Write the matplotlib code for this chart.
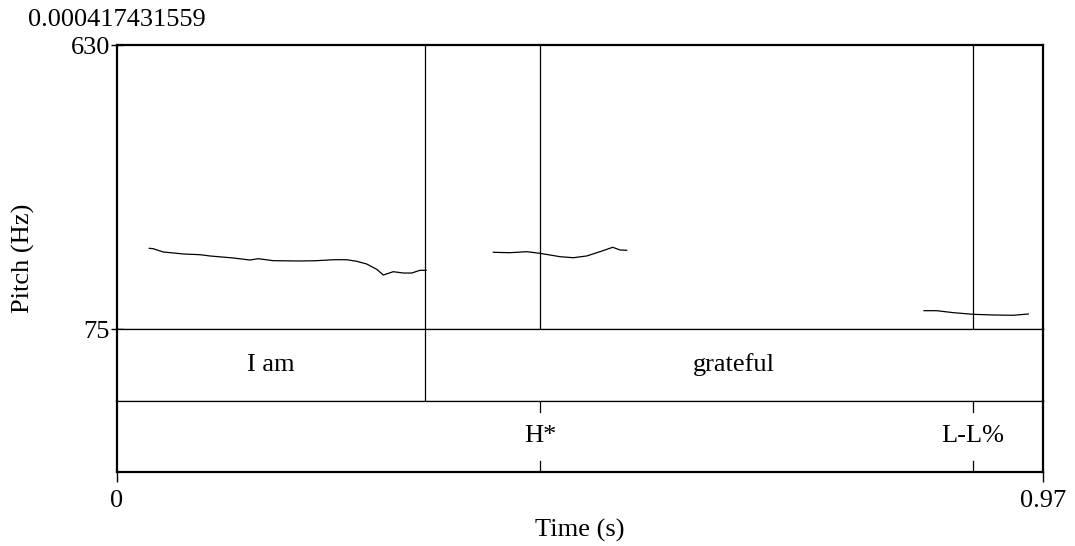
import matplotlib
matplotlib.use("Agg")
import matplotlib.pyplot as plt

plt.rcParams['font.family'] = ['Liberation Serif', 'DejaVu Serif']
plt.rcParams['font.size'] = 19

# pitch track (s, Hz), three voiced stretches
t1 = [0.0338, 0.0380, 0.0485, 0.0695, 0.0869, 0.0974, 0.1218, 0.1393, 0.1480,
      0.1637, 0.1917, 0.2092, 0.2266, 0.2406, 0.2511, 0.2616, 0.2720, 0.2790,
      0.2894, 0.2999, 0.3087, 0.3174, 0.3237]
f1 = [232.7, 231.9, 225.5, 221.6, 220.2, 217.7, 213.8, 209.8, 212.4,
      208.5, 207.9, 208.5, 210.4, 210.4, 207.3, 202.0, 191.7, 180.5,
      187.0, 184.4, 184.4, 189.7, 189.7]
t2 = [0.3942, 0.4117, 0.4292, 0.4431, 0.4641, 0.4780, 0.4920, 0.5060, 0.5193,
      0.5269, 0.5339]
f2 = [224.9, 224.1, 226.1, 222.9, 216.3, 214.3, 217.7, 226.1, 234.7,
      229.4, 228.8]
t3 = [0.8454, 0.8587, 0.8761, 0.8970, 0.9180, 0.9389, 0.9546]
f3 = [110.8, 110.8, 106.9, 103.7, 102.4, 101.8, 104.3]

# text grid
tmin, tmax = 0.0, 0.97
fmin, fmax = 75, 630
word_bounds = [0.0, 0.3226, 0.97]
words = ["I am", "grateful"]
tone_times = [0.4431, 0.8967]
tones = ["H*", "L-L%"]

fig = plt.figure(figsize=(10.75, 5.46), dpi=100)
W, H = 1075, 546
L, R = 117 / W, 1043 / W
def fy(px):
    return 1 - px / H

ax = fig.add_axes([L, fy(329), R - L, fy(45) - fy(329)])
ax1 = fig.add_axes([L, fy(401), R - L, fy(329) - fy(401)])
ax2 = fig.add_axes([L, fy(472), R - L, fy(401) - fy(472)])

for a in (ax, ax1, ax2):
    a.set_xlim(tmin, tmax)
    for s in a.spines.values():
        s.set_linewidth(0.9)
    a.spines['left'].set_linewidth(1.6)
    a.spines['right'].set_linewidth(1.6)
    a.set_xticks([])
    a.set_yticks([])
ax.spines['top'].set_linewidth(1.6)
ax2.spines['bottom'].set_linewidth(1.6)

for t, f in ((t1, f1), (t2, f2), (t3, f3)):
    ax.plot(t, f, color='black', lw=0.9)
ax.set_ylim(fmin, fmax)
ax.set_yticks([fmin, fmax])
ax.tick_params(axis='y', direction='inout', length=8, width=1.0, pad=1)

# interval boundary runs through the pitch panel and word tier
for b in word_bounds[1:-1]:
    ax.axvline(b, color='black', lw=0.9)
    ax1.axvline(b, color='black', lw=0.9)
for t in tone_times:
    ax.axvline(t, color='black', lw=0.9)
for i, w in enumerate(words):
    ax1.text((word_bounds[i] + word_bounds[i + 1]) / 2, 0.5, w,
             ha='center', va='center', transform=ax1.get_xaxis_transform())

for t, lab in zip(tone_times, tones):
    ax2.plot([t, t], [0.85, 1.0], color='black', lw=0.9,
             transform=ax2.get_xaxis_transform())
    ax2.plot([t, t], [0.0, 0.15], color='black', lw=0.9,
             transform=ax2.get_xaxis_transform())
    ax2.text(t, 0.5, lab, ha='center', va='center',
             transform=ax2.get_xaxis_transform())

ax2.set_xticks([tmin, tmax])
ax2.set_xticklabels(["0", "0.97"])
ax2.tick_params(axis='x', direction='out', length=7, width=1.0, pad=6)

fig.text((117 + 1043) / 2 / W, fy(530), "Time (s)", ha='center', va='center')
fig.text(23 / W, fy(258.5), "Pitch (Hz)", rotation=90, ha='center', va='center')
fig.text(L, fy(20), "0.000417431559", ha='center', va='center')

fig.savefig("out.png", dpi=100)
